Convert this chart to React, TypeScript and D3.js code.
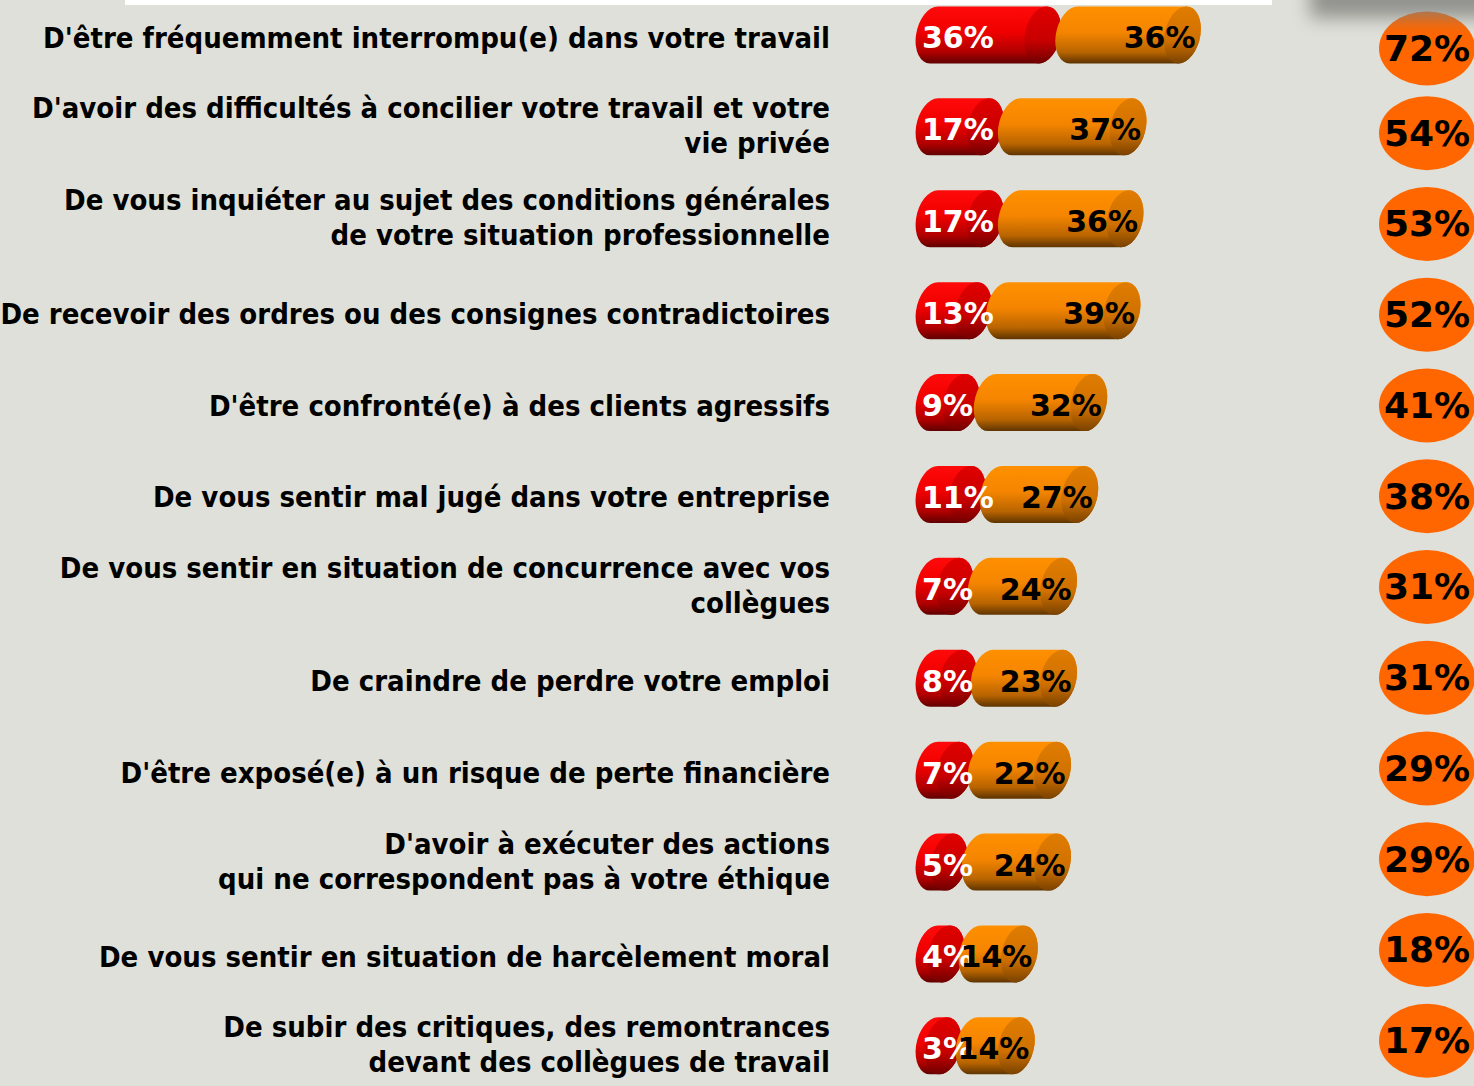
import React from 'react';
import * as d3 from 'd3';

const categories: string[][] = [
  ["D'être fréquemment interrompu(e) dans votre travail"],
  ["D'avoir des difficultés à concilier votre travail et votre", "vie privée"],
  ["De vous inquiéter au sujet des conditions générales", "de votre situation professionnelle"],
  ["De recevoir des ordres ou des consignes contradictoires"],
  ["D'être confronté(e) à des clients agressifs"],
  ["De vous sentir mal jugé dans votre entreprise"],
  ["De vous sentir en situation de concurrence avec vos", "collègues"],
  ["De craindre de perdre votre emploi"],
  ["D'être exposé(e) à un risque de perte financière"],
  ["D'avoir à exécuter des actions", "qui ne correspondent pas à votre éthique"],
  ["De vous sentir en situation de harcèlement moral"],
  ["De subir des critiques, des remontrances", "devant des collègues de travail"],
];
const redValues = [36, 17, 17, 13, 9, 11, 7, 8, 7, 5, 4, 3];
const orangeValues = [36, 37, 36, 39, 32, 27, 24, 23, 22, 24, 14, 14];
const totals = [72, 54, 53, 52, 41, 38, 31, 31, 29, 29, 18, 17];

const W = 1474;
const H = 1086;

export default function App() {
  const idx = d3.range(categories.length);
  const rowScale = d3.scaleBand<number>().domain(idx).range([-11, 1091.8]);
  const circleScale = d3.scaleBand<number>().domain(idx).range([-3, 1086]);
  const x = d3.scaleLinear().domain([0, 100]).range([0, 302]);

  const barStart = 916;
  const rx = 18;
  const h = 57;
  const ry = h / 2;
  const gap = 31;
  const labelX = 830;
  const lineH = 35;
  const circleX = 1427;
  const labelScaleX = 0.9;

  const body = (a: number, b: number, cy: number) => {
    const top = cy - h / 2;
    const bot = cy + h / 2;
    return `M${a},${top}L${b},${top}A${rx},${ry} 0 0 1 ${b},${bot}L${a},${bot}A${rx},${ry} 0 0 1 ${a},${top}Z`;
  };

  const labelFont = "'DejaVu Sans', Verdana, sans-serif";

  return (
    <svg
      width={W}
      height={H}
      style={{ position: 'absolute', left: 0, top: 0, display: 'block' }}
      xmlns="http://www.w3.org/2000/svg"
    >
      <defs>
        <linearGradient id="gRed" x1="0" y1="0" x2="0" y2="1">
          <stop offset="0" stopColor="#ff0a0a" />
          <stop offset="0.45" stopColor="#f00000" />
          <stop offset="0.8" stopColor="#b00000" />
          <stop offset="1" stopColor="#600000" />
        </linearGradient>
        <linearGradient id="gRedCap" x1="0" y1="0" x2="0" y2="1">
          <stop offset="0" stopColor="#e00000" />
          <stop offset="0.6" stopColor="#c80000" />
          <stop offset="1" stopColor="#700000" />
        </linearGradient>
        <linearGradient id="gOr" x1="0" y1="0" x2="0" y2="1">
          <stop offset="0" stopColor="#ff9000" />
          <stop offset="0.45" stopColor="#f58500" />
          <stop offset="0.8" stopColor="#b86400" />
          <stop offset="1" stopColor="#5e3400" />
        </linearGradient>
        <linearGradient id="gOrCap" x1="0" y1="0" x2="0" y2="1">
          <stop offset="0" stopColor="#e07c00" />
          <stop offset="0.6" stopColor="#cf7000" />
          <stop offset="1" stopColor="#7a4200" />
        </linearGradient>
        <filter id="blurShadow" x="-50%" y="-100%" width="200%" height="300%">
          <feGaussianBlur stdDeviation="9" />
        </filter>
      </defs>

      <rect x={0} y={0} width={W} height={H} fill="#dfe0d9" />

      {idx.map((i) => {
        const cy = rowScale(i)! + rowScale.bandwidth() / 2;
        const ccy = circleScale(i)! + circleScale.bandwidth() / 2 + (i === 0 ? 6 : 0);
        const lines = categories[i];
        const textCy = lines.length === 1 ? cy + 3 : cy - 1;
        const firstY = textCy - ((lines.length - 1) * lineH) / 2;

        const ra = barStart + rx;
        const rb = ra + x(redValues[i]);
        const oa = rb + gap;
        const ob = oa + x(orangeValues[i]);

        return (
          <g key={i}>
            <g transform={`translate(${labelX},0) scale(${labelScaleX},1) translate(${-labelX},0)`}>
              <text
                textAnchor="end"
                fontFamily={labelFont}
                fontWeight="bold"
                fontSize={29}
                fill="#000"
              >
                {lines.map((ln, j) => (
                  <tspan key={j} x={labelX} y={firstY + j * lineH} dominantBaseline="central">
                    {ln}
                  </tspan>
                ))}
              </text>
            </g>

            <g transform={`translate(0,${cy}) skewX(-8) translate(0,${-cy})`}>
              <path d={body(ra, rb, cy)} fill="url(#gRed)" />
              <ellipse cx={rb} cy={cy} rx={rx} ry={ry} fill="url(#gRedCap)" />
              <path d={body(oa, ob, cy)} fill="url(#gOr)" />
              <ellipse cx={ob} cy={cy} rx={rx} ry={ry} fill="url(#gOrCap)" />
            </g>

            <text
              x={barStart + 6}
              y={cy + 3}
              dominantBaseline="central"
              textAnchor="start"
              fontFamily={labelFont}
              fontWeight="bold"
              fontSize={30}
              fill="#ffffff"
            >
              {redValues[i]}%
            </text>
            <text
              x={ob + rx - 5}
              y={cy + 3}
              dominantBaseline="central"
              textAnchor="end"
              fontFamily={labelFont}
              fontWeight="bold"
              fontSize={30}
              fill="#000000"
            >
              {orangeValues[i]}%
            </text>

            <ellipse cx={circleX} cy={ccy} rx={48} ry={37} fill="#ff6600" />
            <text
              x={circleX}
              y={ccy}
              dominantBaseline="central"
              textAnchor="middle"
              fontFamily={labelFont}
              fontWeight="bold"
              fontSize={36}
              fill="#000000"
            >
              {totals[i]}%
            </text>
          </g>
        );
      })}

      <rect x={125} y={0} width={1147} height={5} fill="#ffffff" />
      <rect
        x={1310}
        y={-22}
        width={220}
        height={40}
        fill="#7f807b"
        opacity={0.8}
        filter="url(#blurShadow)"
      />
    </svg>
  );
}
